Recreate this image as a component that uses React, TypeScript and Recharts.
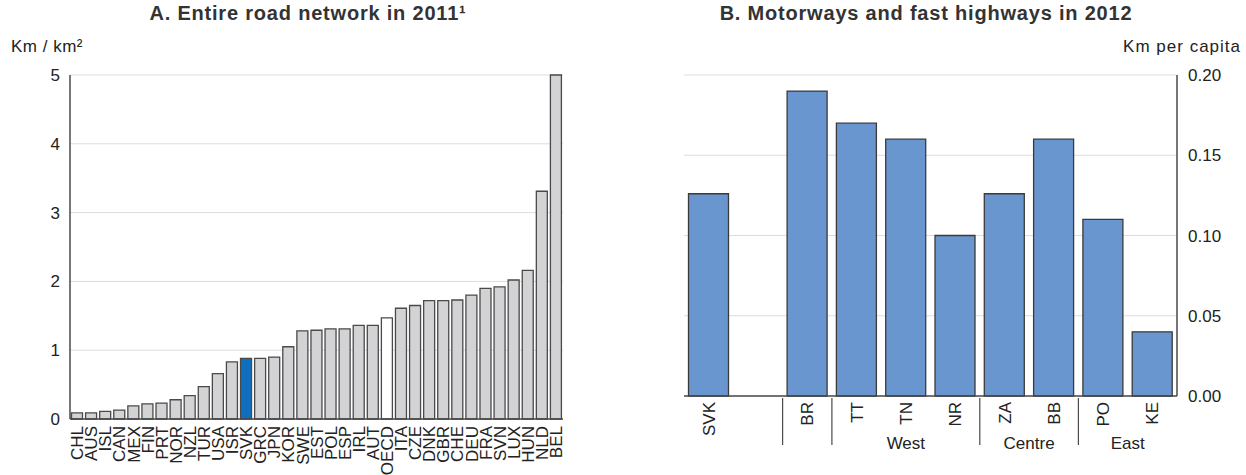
import { Bar, BarChart, CartesianGrid, Cell, XAxis, YAxis } from "recharts"

const countries = ["CHL", "AUS", "ISL", "CAN", "MEX", "FIN", "PRT", "NOR", "NZL", "TUR", "USA", "ISR", "SVK", "GRC", "JPN", "KOR", "SWE", "EST", "POL", "ESP", "IRL", "AUT", "OECD", "ITA", "CZE", "DNK", "GBR", "CHE", "DEU", "FRA", "SVN", "LUX", "HUN", "NLD", "BEL"]
const density = [0.09, 0.09, 0.11, 0.13, 0.19, 0.22, 0.23, 0.28, 0.34, 0.47, 0.66, 0.83, 0.88, 0.88, 0.9, 1.05, 1.28, 1.29, 1.31, 1.31, 1.36, 1.36, 1.47, 1.61, 1.65, 1.72, 1.72, 1.73, 1.8, 1.9, 1.92, 2.02, 2.16, 3.31, 5.0]
const densityTicks = [0, 1, 2, 3, 4, 5]

const regions = ["SVK", "", "BR", "TT", "TN", "NR", "ZA", "BB", "PO", "KE"]
const perCapita = [0.126, null, 0.19, 0.17, 0.16, 0.1, 0.126, 0.16, 0.11, 0.04]
const regionGroups = ["nat", "nat", "cap", "West", "West", "West", "Centre", "Centre", "East", "East"]
const groupLabels = ["West", "Centre", "East"]
const perCapitaTicks = [0, 0.05, 0.1, 0.15, 0.2]

const densityData = countries.map((name, i) => ({ name, value: density[i] }))
const regionData = regions.map((name, i) => ({ name, value: perCapita[i] }))

const FONT = "'Liberation Sans', Arial, Helvetica, sans-serif"
const TEXT = "#222"
const FRAME = "#4a4a4a"
const GRID = "#dcdcdc"

function CountryTick(props: any) {
  const { x, y, payload } = props
  return (
    <text
      transform={`translate(${x},${y + 7}) rotate(-90)`}
      textAnchor="end"
      dy="0.36em"
      fontSize={17}
      fill={TEXT}
      fontFamily={FONT}
    >
      {payload.value}
    </text>
  )
}

function RegionTick(props: any) {
  const { x, y, payload, index } = props
  const half = payload.offset || 24.65
  const g = regionGroups[index]
  const isStart = index > 0 && regionGroups[index - 1] !== g
  let count = 0
  while (regionGroups[index + count] === g) count++
  const showGroup = isStart && groupLabels.includes(g)
  return (
    <g>
      {payload.value !== "" && (
        <text
          transform={`translate(${x},${y + 6}) rotate(-90)`}
          textAnchor="end"
          dy="0.36em"
          fontSize={17}
          fill={TEXT}
          fontFamily={FONT}
        >
          {payload.value}
        </text>
      )}
      {isStart && <line x1={x - half} x2={x - half} y1={y + 2} y2={y + 49} stroke={FRAME} strokeWidth={1.2} />}
      {showGroup && (
        <text x={x - half + count * half} y={y + 53} textAnchor="middle" fontSize={17} fill={TEXT} fontFamily={FONT}>
          {g}
        </text>
      )}
    </g>
  )
}

export default function App() {
  return (
    <div style={{ position: "absolute", left: 0, top: 0, width: 1246, height: 475, background: "#fff", fontFamily: FONT, color: TEXT }}>
      <div style={{ position: "absolute", left: 0, width: 616, top: 2, textAlign: "center", fontWeight: "bold", fontSize: 20, letterSpacing: 0.8, color: "#333" }}>
        A. Entire road network in 2011¹
      </div>
      <div style={{ position: "absolute", left: 11, top: 37, fontSize: 17, letterSpacing: 0.5 }}>Km / km²</div>
      <div style={{ position: "absolute", left: 620, width: 612, top: 2, textAlign: "center", fontWeight: "bold", fontSize: 20, letterSpacing: 0.8, color: "#333" }}>
        B. Motorways and fast highways in 2012
      </div>
      <div style={{ position: "absolute", right: 5, top: 37, fontSize: 17, letterSpacing: 1 }}>Km per capita</div>

      <div style={{ position: "absolute", left: 0, top: 0 }}>
        <BarChart width={620} height={475} data={densityData} margin={{ top: 75, right: 57, left: 30, bottom: 6 }} barCategoryGap={1.5}>
          <CartesianGrid vertical={false} stroke={GRID} />
          <XAxis
            dataKey="name"
            interval={0}
            height={50}
            tickSize={0}
            tickMargin={0}
            tick={<CountryTick />}
            axisLine={{ stroke: FRAME, strokeWidth: 1.5 }}
          />
          <XAxis xAxisId="top" orientation="top" dataKey="name" height={0} tick={false} tickLine={false} axisLine={{ stroke: FRAME, strokeWidth: 1.5 }} />
          <YAxis
            domain={[0, 5]}
            ticks={densityTicks}
            width={40}
            tickSize={0}
            tickMargin={10}
            tickLine={false}
            tick={{ fontSize: 17, fill: TEXT, fontFamily: FONT }}
            axisLine={{ stroke: FRAME, strokeWidth: 1.5 }}
          />
          <YAxis yAxisId="frame" orientation="right" width={0} tick={false} tickLine={false} axisLine={{ stroke: FRAME, strokeWidth: 2 }} />
          <Bar dataKey="value" isAnimationActive={false} stroke={FRAME} strokeWidth={1.3}>
            {densityData.map((d) => (
              <Cell key={d.name} fill={d.name === "SVK" ? "#0f6fbe" : d.name === "OECD" ? "#ffffff" : "#d3d3d5"} />
            ))}
          </Bar>
        </BarChart>
      </div>

      <div style={{ position: "absolute", left: 620, top: 0 }}>
        <BarChart width={626} height={475} data={regionData} margin={{ top: 75, right: 9, left: 64, bottom: 9 }} barCategoryGap={4.5}>
          <CartesianGrid vertical={false} stroke={GRID} yAxisId="val" />
          <XAxis
            dataKey="name"
            interval={0}
            height={70}
            tickSize={0}
            tickMargin={0}
            tick={<RegionTick />}
            axisLine={{ stroke: FRAME, strokeWidth: 1.5 }}
          />
          <XAxis xAxisId="top" orientation="top" dataKey="name" height={0} tick={false} tickLine={false} axisLine={{ stroke: FRAME, strokeWidth: 1.5 }} />
          <YAxis yAxisId="frame" orientation="left" width={0} tick={false} tickLine={false} axisLine={{ stroke: FRAME, strokeWidth: 1.5 }} />
          <YAxis
            yAxisId="val"
            orientation="right"
            domain={[0, 0.2]}
            ticks={perCapitaTicks}
            width={60}
            tickSize={0}
            tickMargin={11}
            tickLine={false}
            tickFormatter={(v: number) => v.toFixed(2)}
            tick={{ fontSize: 17, fill: TEXT, fontFamily: FONT }}
            axisLine={{ stroke: FRAME, strokeWidth: 1.5 }}
          />
          <Bar dataKey="value" yAxisId="val" isAnimationActive={false} fill="#6a96cf" stroke="#3a3a3a" strokeWidth={1.3} />
        </BarChart>
      </div>
    </div>
  )
}
